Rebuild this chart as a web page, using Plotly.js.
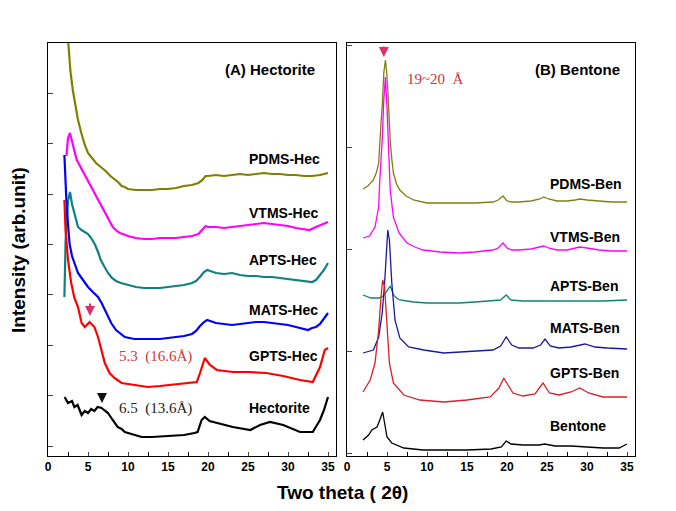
<!DOCTYPE html>
<html><head><meta charset="utf-8">
<script src="https://cdn.plot.ly/plotly-3.0.1.min.js"></script>
<style>html,body{margin:0;padding:0;background:#fff}#chart{width:676px;height:511px}</style>
</head><body><div id="chart"></div>
<script>
// ---------- (A) Hectorite : two theta values and offset intensities ----------
const pdmsHecX = [2.2,2.5,2.8,3.1,3.4,3.75,4.2,4.6,5,5.5,6,6.6,7.2,7.8,8.3,8.75,9.2,9.6,10,11,12,13,14,15,16,17,18,18.8,19.3,19.7,20,21,22,23,24,25,26,27,28,29,30,31,32,33,34,35];
const pdmsHecY = [450,413,385,366,350,336,322,311,303,298,293,289,285,280,277,274,270,269,267,266,266,266,267,267,268,270,271,273,276,280,280,281,280,281,282,281,282,283,282,282,281,281,280,280,281,283];

const vtmsHecX = [2.3,2.5,2.75,3,3.3,3.6,4,4.5,4.9,5.5,6,6.5,7,7.5,8.1,8.6,9,10,11,12,13,14,15,16,17,18,18.8,19.3,19.7,20,21,22,23,24,25,26,27,28,29,30,31,32,32.7,33.5,34.2,35];
const vtmsHecY = [300,318,323,316,305,296,290,282,276,268,260,253,245,237,229,225,223,220,218,217,217,218,218,218,219,220,222,226,230,229,229,228,229,230,231,232,233,232,231,230,228,227,226,229,231,234];

const aptsHecX = [2.05,2.2,2.5,2.75,3,3.4,3.75,4.2,4.6,5,5.4,5.9,6.3,6.6,7,7.5,8,8.5,9.1,10,11,12,13,14,15,16,17,18,18.5,19,19.5,19.9,20.5,21,22,23,24,25,26,27,28,29,30,31,32,33,33.5,34,34.5,35];
const aptsHecY = [159,215,255,264,252,238,229,226,224,222,218,211,203,196,190,183,178,175,173,171,169,168,168,168,169,170,171,173,175,179,184,186,184,183,182,183,181,180,180,179,179,178,177,176,175,174,176,181,186,193];

const matsHecX = [2.05,2.15,2.3,2.5,2.7,3,3.3,3.75,4.2,5,5.6,6.25,6.7,7.3,7.9,8.5,9.6,10.8,12,13,14,15,16,17,18,18.5,19,19.5,19.9,20.5,21,22,23,24,25,26,27,28,29,30,31,32,32.5,33,33.5,34,34.5,35];
const matsHecY = [301,280,255,232,212,200,193,183,178,169,164,159,153,143,133,126,119,117,117,117,117,118,119,120,122,125,130,134,136,134,133,132,131,132,133,134,134,133,132,131,129,127,126,128,129,132,137,143];

const gptsHecX = [2.05,2.2,2.5,2.9,3.3,3.75,4.2,4.6,5.2,5.8,6.25,6.7,7.1,7.7,8.3,9.2,10.8,12.5,14,16,18.3,18.6,19,19.6,20.25,21.1,23.1,25,27.3,29.4,31.5,33.1,34,34.6,35];
const gptsHecY = [256,225,196,173,158,149,133,129,134,129,119,106,93,83,78,73,71,69,70,72,74,74,83,98,91,86,84,84,83,80,76,74,89,106,108];

const hectoriteX = [2.08,2.5,3,3.3,3.7,4.2,4.6,5,5.4,5.8,6.2,6.7,7,7.5,8,8.3,8.7,9.2,9.6,10,11.7,13,15,17,18.3,18.7,19.2,19.6,20.2,21.1,23.1,25.3,26.5,27.75,29.4,31.5,33.1,34,34.5,35];
const hectoriteY = [59,53,55,49,51,41,45,43,47,45,49,48,46,43,37,33,29,27,24,23,19,19,20,21,23,24,36,39,35,33,29,26,31,34,31,24,24,36,46,59];

// ---------- (B) Bentone ----------
const pdmsBenX = [2,2.6,3.3,3.7,3.96,4.1,4.25,4.4,4.6,4.8,4.95,5.1,5.25,5.4,5.6,5.8,6.2,6.6,7.4,8.3,10,12,14,16,18.25,18.9,19.5,20,20.6,21.5,23,24.1,24.6,25.2,26.25,27.5,28.5,29.1,30,31.5,33,35];
const pdmsBenY = [267,270,276,284,293,316,333,349,383,396,385,366,340,316,297,283,272,266,260,256,253,253,253,253,254,256,260,255,254,254,255,257,259,257,255,255,256,257,256,255,254,254];

const vtmsBenX = [2,2.8,3.5,3.96,4.1,4.25,4.4,4.6,4.8,5.0,5.2,5.4,5.8,6.5,7.5,8.5,9.5,11.6,14,16,18.25,18.9,19.5,20,20.6,21.5,23,24.1,24.6,25.2,26.25,27.5,28.5,29.1,30,31.5,33,35];
const vtmsBenY = [218,220,229,249,276,296,316,356,379,349,299,266,239,223,213,209,206,204,203,204,206,208,213,208,206,206,207,209,210,208,206,206,208,209,208,206,205,205];

const aptsBenX = [2,3,4,4.5,4.9,5.2,5.4,5.6,5.8,6.2,6.6,7.5,8.3,10,12,14,16,18,19.2,19.9,20.5,22,24,26,28,30,32,35];
const aptsBenY = [161,158,158,160,164,168,170,166,161,158,156,155,154,153,153,153,154,155,156,161,156,155,155,155,155,155,155,156];

const matsBenX = [2,3.3,3.96,4.4,4.7,4.9,5.1,5.3,5.6,6.0,6.6,7.7,9.6,12.1,14,16,18.25,19.2,19.9,20.6,21.5,23.25,24.2,24.75,25.4,26.5,28,29.75,31,32.5,35];
const matsBenY = [103,106,119,143,173,199,226,216,173,136,118,109,106,103,104,105,106,110,119,111,108,108,111,117,110,108,109,112,109,108,107];

const gptsBenX = [2,2.9,3.5,3.96,4.25,4.46,4.7,5.0,5.3,5.8,7.1,9.1,12.1,15,17.9,19,19.6,20.2,20.75,22,23.5,24.5,25.3,26.5,28,29.1,30.2,32,35];
const gptsBenY = [64,76,93,126,159,176,169,129,93,73,61,56,54,56,59,68,78,70,63,60,62,73,63,61,64,68,63,59,59];

const bentoneX = [2,2.7,3.1,3.75,4.1,4.46,4.7,5.0,5.6,7.1,9.5,12,15,18,19.3,19.9,20.5,22,24,24.7,26,28,30,32,34,34.6,35];
const bentoneY = [16,21,26,29,36,44,33,19,13,8,6,6,6,7,9,15,12,11,11,12,10,10,9,8,8,10,12];

const xTicks = [0,5,10,15,20,25,30,35];
const hecNames = ['PDMS-Hec','VTMS-Hec','APTS-Hec','MATS-Hec','GPTS-Hec','Hectorite'];
const benNames = ['PDMS-Ben','VTMS-Ben','APTS-Ben','MATS-Ben','GPTS-Ben','Bentone'];

// ---------- traces ----------
const hecColors = ['#808000','#ff00ff','#108080','#0000ff','#ff0000','#000000'];
const benColors = ['#808010','#ff00ff','#108070','#1a1aa0','#d8202a','#000000'];
const hecData = [[pdmsHecX,pdmsHecY],[vtmsHecX,vtmsHecY],[aptsHecX,aptsHecY],[matsHecX,matsHecY],[gptsHecX,gptsHecY],[hectoriteX,hectoriteY]];
const benData = [[pdmsBenX,pdmsBenY],[vtmsBenX,vtmsBenY],[aptsBenX,aptsBenY],[matsBenX,matsBenY],[gptsBenX,gptsBenY],[bentoneX,bentoneY]];

const traces = [];
hecData.forEach((d,i)=>traces.push({x:d[0],y:d[1],type:'scatter',mode:'lines',name:hecNames[i],
  line:{color:hecColors[i],width:2.2},xaxis:'x',yaxis:'y',showlegend:false,hoverinfo:'skip'}));
benData.forEach((d,i)=>traces.push({x:d[0],y:d[1],type:'scatter',mode:'lines',name:benNames[i],
  line:{color:benColors[i],width:1.3},xaxis:'x2',yaxis:'y2',showlegend:false,hoverinfo:'skip'}));

const W=676,H=511;
const px = v=>v/W, py = v=>1-v/H;
const FN = 'Liberation Sans, Arial, sans-serif';
const FS = 'Liberation Serif, Times New Roman, serif';

const axX = dom => ({domain:dom,range:[0,36],tickvals:xTicks,ticktext:xTicks.map(String),ticks:'inside',ticklen:4,
  showline:true,mirror:true,linecolor:'#000',linewidth:1,showgrid:false,zeroline:false,
  tickfont:{family:FN,size:12,color:'#000',weight:'bold'},
  minor:{dtick:2.5,tick0:0,ticks:'inside',ticklen:4,tickcolor:'#000',showgrid:false}});
const axY = (t0,dt) => ({domain:[py(456),py(43)],range:[0,413],tick0:t0,dtick:dt,ticks:'inside',ticklen:5,
  showticklabels:false,showline:true,mirror:true,linecolor:'#000',linewidth:1,showgrid:false,zeroline:false});

const ann = [];
const lab = (xr,yr,x,y,text,opts={}) => ann.push(Object.assign({xref:xr,yref:yr,x:x,y:y,text:text,showarrow:false,
  xanchor:'left',yanchor:'middle',font:{family:FN,size:14,color:'#000',weight:'bold'}},opts));

const hecLabY = [297,243,196,146,100,48];
hecNames.forEach((n,i)=>lab('x','y',24.9,hecLabY[i],n));
const benLabY = [272,219,170,128,83,30];
benNames.forEach((n,i)=>lab('x2','y2',25.1,benLabY[i],n));
lab('x','y',21.9,387,'(A) Hectorite',{font:{family:FN,size:15,color:'#000',weight:'bold'}});
lab('x2','y2',23.25,387,'(B) Bentone',{font:{family:FN,size:15,color:'#000',weight:'bold'}});
lab('x','y',8.6,100,'5.3  (16.6Å)',{font:{family:FS,size:15,color:'#cc3a3a'}});
lab('x','y',8.6,48,'6.5  (13.6Å)',{font:{family:FS,size:15,color:'#222'}});
lab('x2','y2',7.25,377,'19~20  Å',{font:{family:FS,size:15,color:'#d03040'}});

// arrows
ann.push({xref:'x',yref:'y',x:5.25,y:140,ax:0,ay:-14,text:'',showarrow:true,arrowhead:2,arrowsize:1,arrowwidth:2,arrowcolor:'#e0306a'});
ann.push({xref:'x',yref:'y',x:6.75,y:53,ax:0,ay:-11,text:'',showarrow:true,arrowhead:2,arrowsize:1,arrowwidth:2,arrowcolor:'#111'});
ann.push({xref:'x2',yref:'y2',x:4.6,y:399,ax:0,ay:-12,text:'',showarrow:true,arrowhead:2,arrowsize:1,arrowwidth:2,arrowcolor:'#e0306a'});

// axis titles
ann.push({xref:'paper',yref:'paper',x:px(18),y:py(250),text:'Intensity (arb.unit)',textangle:-90,showarrow:false,
  xanchor:'center',yanchor:'middle',font:{family:FN,size:19,color:'#000',weight:'bold'}});
ann.push({xref:'paper',yref:'paper',x:px(342),y:py(492),text:'Two theta ( 2θ)',showarrow:false,
  xanchor:'center',yanchor:'middle',font:{family:FN,size:19,color:'#000',weight:'bold'}});

const layout = {width:W,height:H,margin:{l:0,r:0,t:0,b:0},paper_bgcolor:'#fff',plot_bgcolor:'#fff',
  xaxis:axX([px(48),px(336)]), yaxis:axY(10,50.4),
  xaxis2:Object.assign(axX([px(347),px(635)]),{anchor:'y2'}), yaxis2:Object.assign(axY(3,102),{anchor:'x2'}),
  annotations:ann, showlegend:false};
layout.xaxis.anchor='y';
Plotly.newPlot('chart',traces,layout,{staticPlot:true,displayModeBar:false});
</script></body></html>
